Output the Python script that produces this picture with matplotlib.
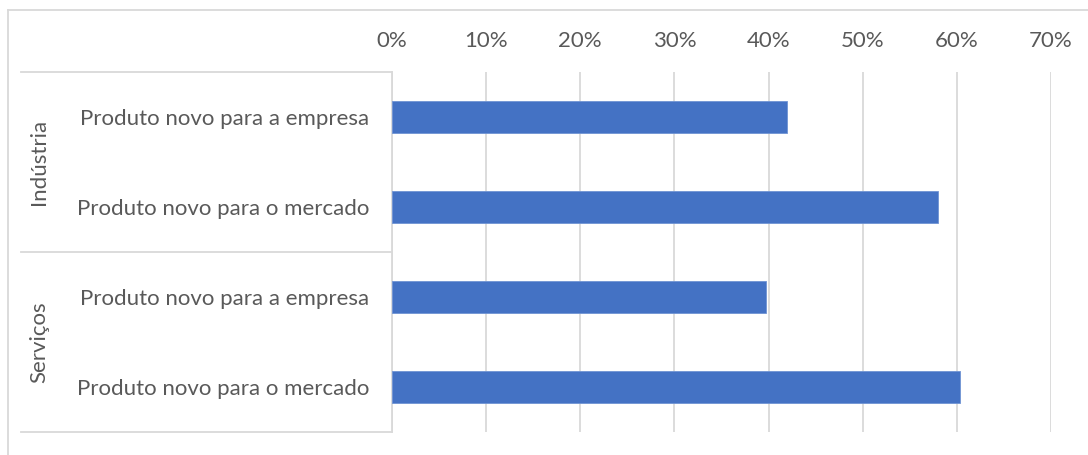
import matplotlib
matplotlib.use("Agg")
import matplotlib.pyplot as plt
import matplotlib.transforms as mtransforms
from matplotlib.lines import Line2D
from matplotlib.ticker import FuncFormatter

# Data
groups = ["Indústria", "Serviços"]
categories = [
    "Produto novo para a empresa",
    "Produto novo para o mercado",
    "Produto novo para a empresa",
    "Produto novo para o mercado",
]
values = [42.0, 58.0, 39.7, 60.3]  # percent
x_ticks = [0, 10, 20, 30, 40, 50, 60, 70]

TEXT = "#595959"
GRID = "#d9d9d9"
BAR = "#4472C4"
FONT = ["Lato", "DejaVu Sans"]
FS = 16

plt.rcParams["font.family"] = FONT

fig = plt.figure(figsize=(10.88, 4.55), dpi=100)
W, H = 1088, 455
ax = fig.add_axes([392 / W, 1 - 432 / H, (1051 - 392) / W, (432 - 72) / H])

ypos = list(range(len(categories)))
ax.barh(ypos, values, height=0.355, color=BAR, edgecolor="#6f93d3", linewidth=0.6, zorder=3)

ax.set_xlim(x_ticks[0], x_ticks[-1])
ax.set_ylim(len(categories) - 0.5, -0.5)
ax.set_xticks(x_ticks)
ax.xaxis.set_major_formatter(FuncFormatter(lambda v, p: f"{v:.0f}%"))
ax.xaxis.tick_top()
ax.tick_params(axis="x", length=0, pad=15, labelsize=FS, labelcolor=TEXT)
ax.grid(axis="x", color=GRID, linewidth=1.3, zorder=0)

ax.set_yticks(ypos)
ax.set_yticklabels(categories)
ax.tick_params(axis="y", length=0, pad=16.5, labelsize=FS, labelcolor=TEXT)

for side in ["top", "right", "bottom"]:
    ax.spines[side].set_visible(False)
ax.spines["left"].set_color(GRID)
ax.spines["left"].set_linewidth(1.3)

# Group separators extending into the label area
trans = mtransforms.blended_transform_factory(ax.transAxes, ax.transData)
x0 = (21 - 392) / (1051 - 392)
for yb in [-0.5, 1.5, 3.5]:
    ax.add_line(Line2D([x0, 0], [yb, yb], transform=trans, color=GRID,
                       linewidth=1.3, clip_on=False))

# Rotated group labels
xg = (39 - 392) / (1051 - 392)
for i, g in enumerate(groups):
    ax.text(xg, 2 * i + 0.5, g, transform=trans, rotation=90, ha="center",
            va="center", fontsize=FS, color=TEXT)

# Chart frame (top and left edges)
fig.add_artist(Line2D([7.5 / W, 1.0], [1 - 10 / H, 1 - 10 / H], color=GRID, linewidth=1.3))
fig.add_artist(Line2D([7.5 / W, 7.5 / W], [0.0, 1 - 10 / H], color=GRID, linewidth=1.3))

fig.savefig("out.png", dpi=100, facecolor="white")
